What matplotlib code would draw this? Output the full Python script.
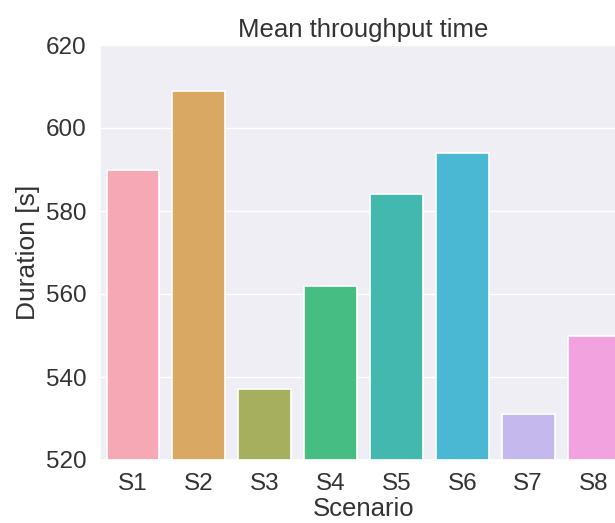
import matplotlib
matplotlib.use("Agg")
import matplotlib.pyplot as plt
import seaborn as sns

scenarios = ["S1", "S2", "S3", "S4", "S5", "S6", "S7", "S8"]
durations = [590, 609, 537, 562, 584, 594, 531, 550]
bar_colors = ["#F6A8B4", "#D9A862", "#A5AF5D", "#46BD83",
              "#42B8AE", "#4AB7D3", "#C4B8EC", "#F2A2DE"]

sns.set_theme(style="darkgrid")
plt.rcParams['font.family'] = ['Liberation Sans', 'DejaVu Sans']

fig = plt.figure(figsize=(6.15, 5.23), dpi=100)
ax = fig.add_axes([100/615, (523-460)/523, (627-100)/615, (460-45)/523])
ax.set_facecolor("#EEEEF4")
sns.barplot(x=scenarios, y=durations, hue=scenarios, palette=bar_colors, saturation=1,
            legend=False, ax=ax, edgecolor="white", linewidth=1.2)
ax.set_ylim(520, 620)
ax.set_yticks([520, 540, 560, 580, 600, 620])
ax.tick_params(labelsize=17.5, colors="#333333")
ax.set_xlabel("Scenario", fontsize=18.5, color="#333333", labelpad=1)
ax.set_ylabel("Duration [s]", fontsize=19, color="#333333")
ax.set_title("Mean throughput time", fontsize=18.5, color="#333333")
fig.savefig("out.png", dpi=100)
